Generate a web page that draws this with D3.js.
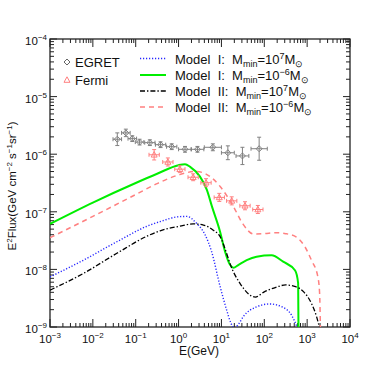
<!DOCTYPE html>
<html>
<head>
<meta charset="utf-8">
<script src="https://cdn.jsdelivr.net/npm/d3@7"></script>
<style>
  body { margin: 0; background: #fff; }
  text { font-family: "Liberation Sans", Arial, sans-serif; fill: #111; white-space: pre; }
</style>
</head>
<body>
<div id="chart"></div>
<script type="text/javascript">
  const width = 374,
    height = 374;

  // data (log10 E [GeV], log10 E^2 flux)
  const egretLogE = [-1.43, -1.23, -1.08, -0.91, -0.67, -0.42, -0.16, 0.15, 0.44, 0.80, 1.15, 1.49, 1.88];
  const egretLogF = [-5.74, -5.63, -5.73, -5.79, -5.80, -5.835, -5.87, -5.915, -5.915, -5.88, -5.975, -6.03, -5.905];
  const egretErrE = [0.10, 0.10, 0.10, 0.10, 0.12, 0.12, 0.12, 0.15, 0.15, 0.2, 0.15, 0.15, 0.19];
  const egretErrF = [0.11, 0.065, 0.05, 0.05, 0.05, 0.05, 0.05, 0.05, 0.05, 0.06, 0.12, 0.15, 0.2];

  const fermiLogE = [-0.57, -0.25, 0.03, 0.34, 0.64, 0.95, 1.24, 1.55, 1.85];
  const fermiLogF = [-6.01, -6.135, -6.26, -6.40, -6.495, -6.75, -6.81, -6.895, -6.96];
  const fermiErrE = [0.12, 0.12, 0.12, 0.12, 0.12, 0.12, 0.12, 0.12, 0.12];
  const fermiErrF = [0.09, 0.07, 0.06, 0.06, 0.07, 0.07, 0.07, 0.07, 0.07];

  const model1HighE = [-3, -2.22, -1.44, -0.67, -0.43, 0, 0.19, 0.42, 0.62, 0.77, 0.97, 1.12, 1.22, 1.3, 1.4, 1.51, 1.82, 2.13, 2.44, 2.64, 2.76, 2.82];
  const model1HighF = [-8.13, -7.84, -7.52, -7.23, -7.17, -7.085, -7.08, -7.2, -7.40, -7.69, -8.3, -8.7, -8.93, -9.02, -8.95, -8.82, -8.65, -8.6, -8.66, -8.8, -9.0, -9.15];

  const model1LowE = [-3, -2, -1, -0.5, 0, 0.15, 0.27, 0.5, 0.66, 0.78, 0.97, 1.08, 1.2, 1.28, 1.4, 1.59, 1.82, 2.17, 2.44, 2.72, 2.79, 2.80];
  const model1LowF = [-7.21, -6.84, -6.50, -6.34, -6.19, -6.175, -6.22, -6.39, -6.62, -6.91, -7.35, -7.68, -7.92, -7.97, -7.92, -7.84, -7.78, -7.755, -7.866, -8.02, -8.24, -9.2];

  const model2HighE = [-3, -2.22, -1.44, -0.67, -0.43, 0.03, 0.34, 0.58, 0.81, 0.97, 1.12, 1.2, 1.44, 1.79, 2.0, 2.27, 2.5, 2.73, 2.92, 3.1, 3.22, 3.3];
  const model2HighF = [-8.36, -8.07, -7.72, -7.40, -7.33, -7.25, -7.21, -7.23, -7.32, -7.43, -7.72, -7.9, -8.25, -8.48, -8.39, -8.31, -8.27, -8.30, -8.39, -8.59, -8.82, -9.05];

  const model2LowE = [-3, -2, -1, -0.5, 0, 0.4, 0.6, 0.97, 1.28, 1.5, 1.75, 2.0, 2.25, 2.5, 2.75, 2.95, 3.1, 3.25, 3.29, 3.31];
  const model2LowF = [-7.45, -7.08, -6.70, -6.51, -6.36, -6.30, -6.33, -6.56, -6.91, -7.21, -7.385, -7.38, -7.363, -7.38, -7.44, -7.61, -7.84, -8.13, -8.4, -9.05];

  const xTicks = [-3, -2, -1, 0, 1, 2, 3, 4];
  const yTicks = [-9, -8, -7, -6, -5, -4];

  const svg = d3.select("#chart").append("svg")
    .attr("width", width)
    .attr("height", height);

  const x = d3.scaleLog().domain([1e-3, 1e4]).range([50, 350]);
  const y = d3.scaleLog().domain([1e-9, 1e-4]).range([327, 39]);
  const p10 = function(v) { return Math.pow(10, v); };

  svg.append("clipPath").attr("id", "clip")
    .append("rect").attr("x", 50).attr("y", 39).attr("width", 300).attr("height", 288);

  // ticks, all pointing inwards on the four sides
  const minorX = [], minorY = [];
  for (let d = -3; d < 4; d++) for (let k = 2; k < 10; k++) minorX.push(k * p10(d));
  for (let d = -9; d < -4; d++) for (let k = 2; k < 10; k++) minorY.push(k * p10(d));

  const ticks = svg.append("g").attr("stroke", "#222").attr("stroke-width", 1);
  xTicks.forEach(function(t) {
    ticks.append("line").attr("x1", x(p10(t))).attr("x2", x(p10(t))).attr("y1", 327).attr("y2", 319);
    ticks.append("line").attr("x1", x(p10(t))).attr("x2", x(p10(t))).attr("y1", 39).attr("y2", 47);
  });
  minorX.forEach(function(t) {
    ticks.append("line").attr("x1", x(t)).attr("x2", x(t)).attr("y1", 327).attr("y2", 323);
    ticks.append("line").attr("x1", x(t)).attr("x2", x(t)).attr("y1", 39).attr("y2", 43);
  });
  yTicks.forEach(function(t) {
    ticks.append("line").attr("y1", y(p10(t))).attr("y2", y(p10(t))).attr("x1", 50).attr("x2", 57);
    ticks.append("line").attr("y1", y(p10(t))).attr("y2", y(p10(t))).attr("x1", 350).attr("x2", 343);
  });
  minorY.forEach(function(t) {
    ticks.append("line").attr("y1", y(t)).attr("y2", y(t)).attr("x1", 50).attr("x2", 54);
    ticks.append("line").attr("y1", y(t)).attr("y2", y(t)).attr("x1", 350).attr("x2", 346);
  });

  svg.append("rect")
    .attr("x", 50).attr("y", 39).attr("width", 300).attr("height", 288)
    .attr("fill", "none").attr("stroke", "#222").attr("stroke-width", 1.3);

  // tick labels
  xTicks.forEach(function(t) {
    const lab = svg.append("text").attr("x", x(p10(t))).attr("y", 342.5)
      .attr("text-anchor", "middle").style("font-size", "11.5px");
    lab.append("tspan").text("10");
    lab.append("tspan").attr("dy", -5).style("font-size", "8px").text(t < 0 ? "\u2212" + (-t) : t);
  });
  yTicks.forEach(function(t) {
    const lab = svg.append("text").attr("x", 47).attr("y", y(p10(t)) + 6)
      .attr("text-anchor", "end").style("font-size", "11.5px");
    lab.append("tspan").text("10");
    lab.append("tspan").attr("dy", -5).style("font-size", "8px").text("\u2212" + (-t));
  });

  svg.append("text").attr("x", 199).attr("y", 355)
    .attr("text-anchor", "middle").style("font-size", "12px").text("E(GeV)");

  const yt = svg.append("text")
    .attr("transform", "translate(16,186) rotate(-90)")
    .attr("text-anchor", "middle").style("font-size", "11.5px");
  yt.append("tspan").text("E");
  yt.append("tspan").attr("dy", -4).style("font-size", "8px").text("2");
  yt.append("tspan").attr("dy", 4).text("Flux(GeV cm");
  yt.append("tspan").attr("dy", -4).style("font-size", "8px").text("\u22122");
  yt.append("tspan").attr("dy", 4).text(" s");
  yt.append("tspan").attr("dy", -4).style("font-size", "8px").text("\u22121");
  yt.append("tspan").attr("dy", 4).text("sr");
  yt.append("tspan").attr("dy", -4).style("font-size", "8px").text("\u22121");
  yt.append("tspan").attr("dy", 4).text(")");

  // model curves
  const line = d3.line()
    .x(function(d) { return x(p10(d[0])); })
    .y(function(d) { return y(p10(d[1])); })
    .curve(d3.curveMonotoneX);

  const models = [
    { e: model1HighE, f: model1HighF, color: "#2626ff", dash: "1.2,1.8", w: 1.4 },
    { e: model1LowE, f: model1LowF, color: "#00ee00", dash: null, w: 2 },
    { e: model2HighE, f: model2HighF, color: "#000000", dash: "5,2,1.4,2", w: 1.3 },
    { e: model2LowE, f: model2LowF, color: "#ff8080", dash: "5,4", w: 1.5 }
  ];

  const curves = svg.append("g").attr("clip-path", "url(#clip)");
  models.forEach(function(m) {
    curves.append("path")
      .datum(m.e.map(function(v, i) { return [v, m.f[i]]; }))
      .attr("d", line)
      .attr("fill", "none")
      .attr("stroke", m.color)
      .attr("stroke-width", m.w)
      .attr("stroke-dasharray", m.dash);
  });

  // data points with error bars
  function drawPoints(le, lf, ee, ef, color, marker) {
    const g = svg.append("g").attr("stroke", color).attr("fill", "none").attr("stroke-width", 1);
    le.forEach(function(v, i) {
      const cx = x(p10(v)), cy = y(p10(lf[i]));
      const x0 = x(p10(v - ee[i])), x1 = x(p10(v + ee[i]));
      const y0 = y(p10(lf[i] - ef[i])), y1 = y(p10(lf[i] + ef[i]));
      g.append("line").attr("x1", x0).attr("x2", x1).attr("y1", cy).attr("y2", cy);
      g.append("line").attr("x1", cx).attr("x2", cx).attr("y1", y0).attr("y2", y1);
      g.append("line").attr("x1", cx - 2).attr("x2", cx + 2).attr("y1", y0).attr("y2", y0);
      g.append("line").attr("x1", cx - 2).attr("x2", cx + 2).attr("y1", y1).attr("y2", y1);
      g.append("line").attr("x1", x0).attr("x2", x0).attr("y1", cy - 2).attr("y2", cy + 2);
      g.append("line").attr("x1", x1).attr("x2", x1).attr("y1", cy - 2).attr("y2", cy + 2);
      g.append("path").attr("d", marker(cx, cy));
    });
  }
  const diamond = function(cx, cy) {
    return "M" + cx + "," + (cy - 3) + "L" + (cx + 3) + "," + cy + "L" + cx + "," + (cy + 3) + "L" + (cx - 3) + "," + cy + "Z";
  };
  const triangle = function(cx, cy) {
    return "M" + cx + "," + (cy - 3.2) + "L" + (cx + 3) + "," + (cy + 2.3) + "L" + (cx - 3) + "," + (cy + 2.3) + "Z";
  };
  drawPoints(egretLogE, egretLogF, egretErrE, egretErrF, "#808080", diamond);
  drawPoints(fermiLogE, fermiLogF, fermiErrE, fermiErrF, "#ff8080", triangle);

  // legend, data
  svg.append("path").attr("d", diamond(67, 62)).attr("fill", "none").attr("stroke", "#666");
  svg.append("text").attr("x", 75).attr("y", 67).style("font-size", "13px").text("EGRET");
  svg.append("path").attr("d", triangle(67, 80)).attr("fill", "none").attr("stroke", "#ff8080");
  svg.append("text").attr("x", 75).attr("y", 85).style("font-size", "13px").text("Fermi");

  // legend, models
  const legendRows = [
    { label: "Model  I:  M", exp: "7" },
    { label: "Model  I:  M", exp: "\u22126" },
    { label: "Model  II:  M", exp: "7" },
    { label: "Model  II:  M", exp: "\u22126" }
  ];
  const rowY = [58.5, 75, 91, 107];
  legendRows.forEach(function(r, i) {
    const m = models[i];
    svg.append("line").attr("x1", 140).attr("x2", 166).attr("y1", rowY[i]).attr("y2", rowY[i])
      .attr("stroke", m.color).attr("stroke-width", m.w).attr("stroke-dasharray", m.dash);
    const t = svg.append("text").attr("x", 175).attr("y", rowY[i] + 5).style("font-size", "13px");
    t.append("tspan").text(r.label);
    t.append("tspan").attr("dy", 3).style("font-size", "9px").text("min");
    t.append("tspan").attr("dy", -3).text("=10");
    t.append("tspan").attr("dy", -5).style("font-size", "9px").text(r.exp);
    t.append("tspan").attr("dy", 5).text("M");
    t.append("tspan").attr("dy", 3).style("font-size", "9px").text("\u2299");
  });
</script>
</body>
</html>
